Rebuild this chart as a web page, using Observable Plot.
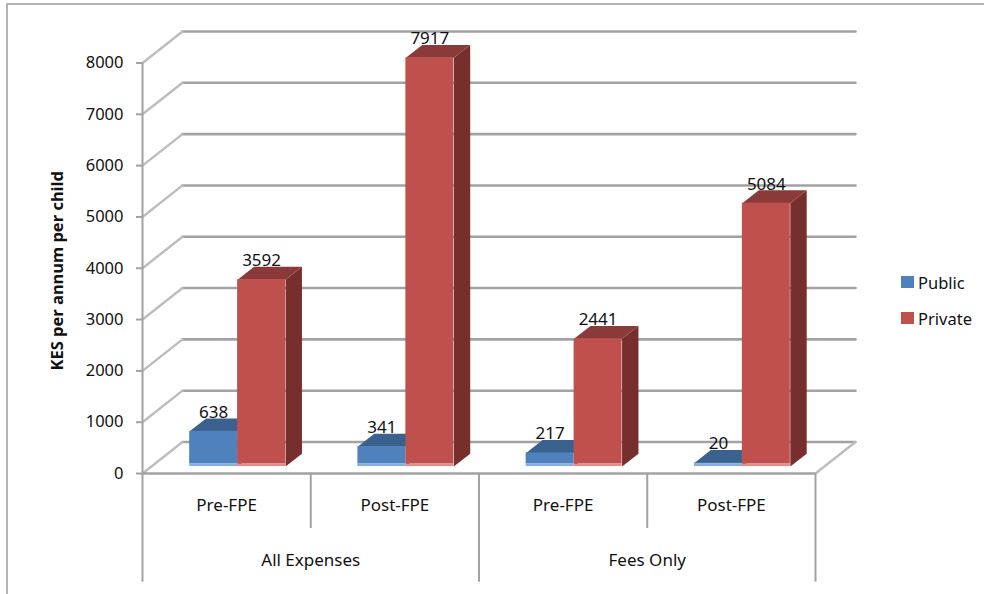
<!DOCTYPE html>
<html>
<head>
<meta charset="utf-8">
<script src="https://cdn.jsdelivr.net/npm/d3@7"></script>
<script src="https://cdn.jsdelivr.net/npm/@observablehq/plot@0.6"></script>
<style>
  html, body { margin: 0; padding: 0; background: #fff; overflow: hidden; }
  #page { position: relative; width: 984px; height: 594px; overflow: hidden; font-family: "Noto Sans", sans-serif; }
  #page svg { position: absolute; left: 0; top: 0; background: transparent; }
  #border { position: absolute; left: 6px; top: 3px; width: 1000px; height: 700px; border: 2px solid #b4b4b4; }
  #legend { position: absolute; left: 901px; top: 264px; font-size: 16.5px; color: #111; }
  #legend div { display: flex; align-items: center; height: 36px; }
  #legend i { display: block; width: 13px; height: 12px; margin-right: 4px; }
</style>
</head>
<body>
<div id="page">
  <div id="border"></div>
  <div id="legend"></div>
</div>
<script>
// Household spending per child, by school type and period
const groups = ["All Expenses", "Fees Only"];
const periods = ["Pre-FPE", "Post-FPE", "Pre-FPE", "Post-FPE"];
const publicValues = [638, 341, 217, 20];
const privateValues = [3592, 7917, 2441, 5084];
const yTicks = [0, 1000, 2000, 3000, 4000, 5000, 6000, 7000, 8000];
const seriesNames = ["Public", "Private"];

// Oblique projection: depth 0 is the front of the floor, depth 1 the back wall.
// One unit of depth shifts a point along both data axes.
const depthX = 0.2377;
const depthY = 614;
const px = (slot, depth) => slot + depth * depthX;
const py = (value, depth) => value + depth * depthY;

// Column geometry, in slots and depth units
const barWidth = 0.285;
const barFront = 0.30;
const barBack = 0.71;
const barCentre = 0.494;
const plinth = -49; // the columns sit on a thin lighter base below zero

const palette = {
  Public: {front: "#4f81bd", top: "#3b618e", side: "#2f4d71", base: "#8aaedb"},
  Private: {front: "#c0504d", top: "#8a3a38", side: "#772f2d", base: "#e08f8c"}
};

const columns = seriesNames.flatMap((series) =>
  (series === "Public" ? publicValues : privateValues).map((value, i) => {
    const mid = i + barCentre;
    const x1 = series === "Public" ? mid - barWidth : mid;
    return {series, value, x1, x2: x1 + barWidth};
  })
);

// Closed outline of the top of a column
const topFace = (c, i) => [
  {x: px(c.x1, barFront), y: py(c.value, barFront), i},
  {x: px(c.x2, barFront), y: py(c.value, barFront), i},
  {x: px(c.x2, barBack), y: py(c.value, barBack), i},
  {x: px(c.x1, barBack), y: py(c.value, barBack), i}
];

// Closed outline of the right-hand side of a column
const sideFace = (c, i) => [
  {x: px(c.x2, barFront), y: py(plinth, barFront), i},
  {x: px(c.x2, barFront), y: py(c.value, barFront), i},
  {x: px(c.x2, barBack), y: py(c.value, barBack), i},
  {x: px(c.x2, barBack), y: py(plinth, barBack), i}
];

const columnMarks = (series) => {
  const rows = columns.filter((c) => c.series === series);
  const colors = palette[series];
  return [
    Plot.line(rows.flatMap(sideFace), {x: "x", y: "y", z: "i", fill: colors.side, stroke: "none"}),
    Plot.line(rows.flatMap(topFace), {x: "x", y: "y", z: "i", fill: colors.top, stroke: "none"}),
    Plot.rect(rows, {
      x1: (c) => px(c.x1, barFront),
      x2: (c) => px(c.x2, barFront),
      y1: py(0, barFront),
      y2: (c) => py(c.value, barFront),
      fill: colors.front
    }),
    Plot.rect(rows, {
      x1: (c) => px(c.x1, barFront),
      x2: (c) => px(c.x2, barFront),
      y1: py(plinth, barFront),
      y2: py(0, barFront),
      fill: colors.base
    })
  ];
};

// Back-wall gridlines and the receding lines along the left wall
const wallLines = yTicks.flatMap((value) => [
  {x: px(0, 1), y: py(value, 1), value},
  {x: px(4, 1), y: py(value, 1), value}
]);
const leftWallLines = yTicks.flatMap((value) => [
  {x: px(0, 0), y: py(value, 0), value},
  {x: px(0, 1), y: py(value, 1), value}
]);
const floorEdge = [
  {x: px(4, 1), y: py(0, 1)},
  {x: px(4, 0), y: py(0, 0)}
];

const gridColor = "#a2a2a2";
const slotLabelY = -624;
const groupLabelY = -1696;

const chart = Plot.plot({
  width: 984,
  height: 594,
  marginLeft: 142,
  marginRight: 169,
  marginTop: 31,
  marginBottom: 121,
  style: {fontFamily: '"Noto Sans", sans-serif', fontSize: "17px", color: "#111"},
  x: {domain: [0, 4], range: [142, 815], axis: null},
  y: {domain: [0, 8000], range: [473, 62.5], axis: null},
  marks: [
    Plot.line(wallLines, {x: "x", y: "y", z: "value", stroke: gridColor, strokeWidth: 2.6}),
    Plot.line(leftWallLines, {x: "x", y: "y", z: "value", stroke: "#bdbdbd", strokeWidth: 2.4}),
    Plot.line(floorEdge, {x: "x", y: "y", stroke: "#bdbdbd", strokeWidth: 2.4}),

    ...columnMarks("Public"),
    ...columnMarks("Private"),

    // Axis lines and the two-level category dividers
    Plot.ruleX([0], {y1: 0, y2: 8000, stroke: gridColor, strokeWidth: 2}),
    Plot.ruleY([0], {x1: 0, x2: 4, stroke: gridColor, strokeWidth: 2.6}),
    Plot.ruleX([1, 3], {y1: 0, y2: -1071, stroke: gridColor, strokeWidth: 2}),
    Plot.ruleX([0, 2, 4], {y1: 0, y2: -2118, stroke: gridColor, strokeWidth: 2}),

    Plot.axisY({
      ticks: yTicks,
      tickFormat: "d",
      tickSize: 6,
      tickPadding: 13,
      stroke: gridColor,
      strokeWidth: 2,
      label: null,
      fontSize: 16.5
    }),
    Plot.text(["KES per annum per child"], {
      x: 0,
      y: 3950,
      dx: -85,
      rotate: -90,
      fontWeight: "bold",
      fontSize: 16.5,
      fill: "#111"
    }),

    Plot.text(periods, {x: (d, i) => i + 0.5, y: slotLabelY, fontSize: 17, fill: "#111"}),
    Plot.text(groups, {x: (d, i) => i * 2 + 1, y: groupLabelY, fontSize: 17, fill: "#111"}),

    // Value labels sit just above each column's front edge
    Plot.text(columns, {
      x: (c) => px((c.x1 + c.x2) / 2, barFront),
      y: (c) => py(c.value, barFront),
      text: (c) => String(c.value),
      dy: -19,
      fontSize: 17,
      fill: "#111"
    })
  ]
});

document.getElementById("page").prepend(chart);

document.getElementById("legend").innerHTML = seriesNames
  .map((name) => `<div><i style="background:${palette[name].front}"></i>${name}</div>`)
  .join("");
</script>
</body>
</html>
